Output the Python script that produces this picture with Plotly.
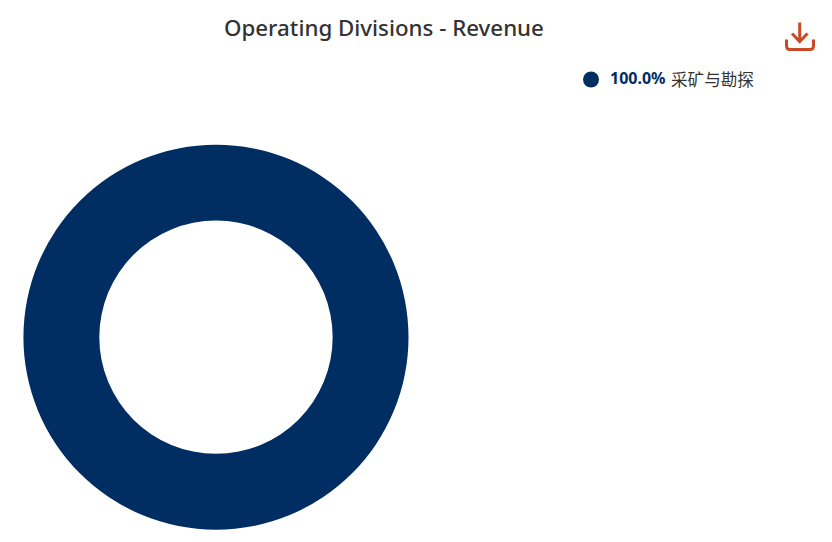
"""Operating divisions revenue donut."""

import plotly.graph_objects as go

divisions = ["采矿与勘探"]
revenue_share = [100.0]
colors = ["#002D62"]

chart_title = "Operating Divisions - Revenue"

WIDTH = 832
HEIGHT = 542
ICON_COLOR = "#CB4A26"
TEXT_COLOR = "#333333"


def px_x(x):
    return x / WIDTH


def px_y(y):
    return 1 - y / HEIGHT


fig = go.Figure()

fig.add_trace(
    go.Pie(
        labels=divisions,
        values=revenue_share,
        hole=0.606,
        sort=False,
        textinfo="none",
        marker=dict(colors=colors, line=dict(width=0)),
        domain=dict(x=[px_x(23.5), px_x(408.5)], y=[px_y(529.7), px_y(144.7)]),
        showlegend=False,
    )
)

shapes = [
    dict(
        type="circle",
        xref="paper",
        yref="paper",
        x0=px_x(583),
        x1=px_x(599),
        y0=px_y(87.5),
        y1=px_y(71.5),
        fillcolor=colors[0],
        line=dict(width=0),
    ),
    # Download icon
    dict(
        type="path",
        xref="paper",
        yref="paper",
        path=(
            f"M {px_x(799.7)} {px_y(22.5)} L {px_x(799.7)} {px_y(41)} "
            f"M {px_x(792)} {px_y(33.5)} L {px_x(799.7)} {px_y(41.5)} L {px_x(807.5)} {px_y(33.5)} "
            f"M {px_x(786.5)} {px_y(39.5)} L {px_x(786.5)} {px_y(46)} "
            f"Q {px_x(786.5)} {px_y(49.5)} {px_x(790)} {px_y(49.5)} "
            f"L {px_x(810)} {px_y(49.5)} "
            f"Q {px_x(813.5)} {px_y(49.5)} {px_x(813.5)} {px_y(46)} "
            f"L {px_x(813.5)} {px_y(39.5)}"
        ),
        line=dict(color=ICON_COLOR, width=3),
    ),
]

# Legend is drawn by hand: round dot, bold coloured percent, then the label
fig.add_annotation(
    text=f"<b>{revenue_share[0]:.1f}%</b>",
    xref="paper",
    yref="paper",
    x=px_x(607.5),
    y=px_y(78.5),
    xanchor="left",
    yanchor="middle",
    showarrow=False,
    font=dict(family="Noto Sans", size=16, color=colors[0]),
)
fig.add_annotation(
    text=divisions[0],
    xref="paper",
    yref="paper",
    x=px_x(668.5),
    y=px_y(79),
    xanchor="left",
    yanchor="middle",
    showarrow=False,
    font=dict(family="Noto Sans CJK SC", size=16.6, color=TEXT_COLOR),
)

fig.add_annotation(
    text=chart_title,
    xref="paper",
    yref="paper",
    x=px_x(383.5),
    y=px_y(27.8),
    xanchor="center",
    yanchor="middle",
    showarrow=False,
    font=dict(family="Noto Sans", size=22.3, color=TEXT_COLOR, weight=500),
)

fig.update_layout(
    width=WIDTH,
    height=HEIGHT,
    margin=dict(l=0, r=0, t=0, b=0),
    paper_bgcolor="white",
    shapes=shapes,
)

fig.write_html(
    "out.html",
    config=dict(displayModeBar=False),
    post_script="document.body.style.margin = '0';",
)
